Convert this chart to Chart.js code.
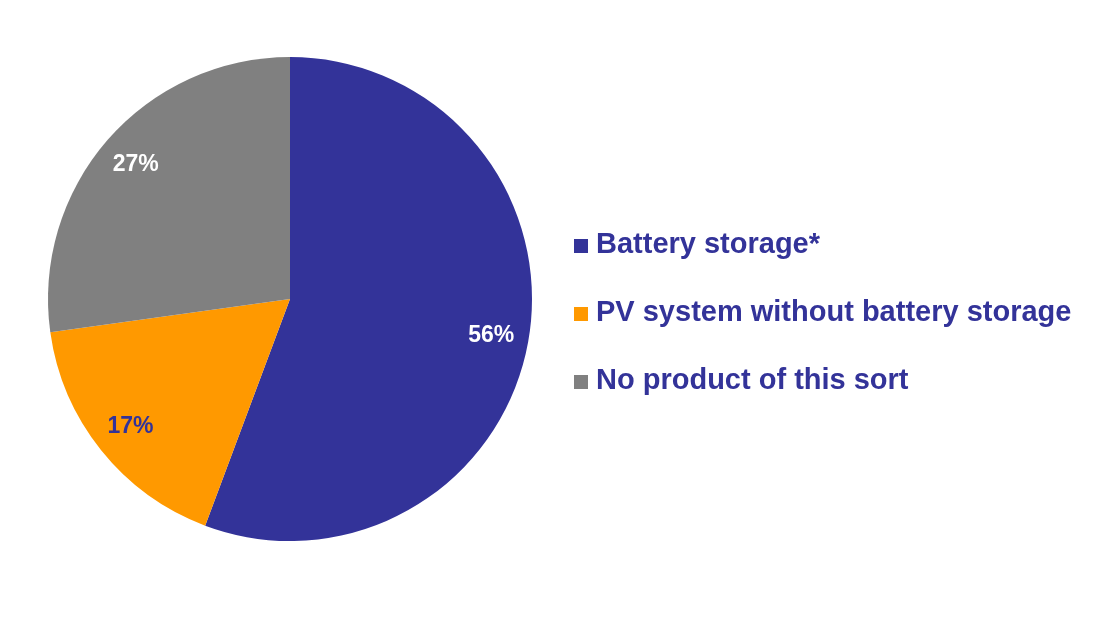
<!DOCTYPE html>
<html>
<head>
<meta charset="utf-8">
<script src="https://cdn.jsdelivr.net/npm/chart.js@4"></script>
<style>
  html, body { margin: 0; padding: 0; background: #fff; }
  #wrap { width: 1102px; height: 623px; }
</style>
</head>
<body>
<div id="wrap"><canvas id="myChart" width="1102" height="623"></canvas></div>
<script>
const categories = ["Battery storage*", "PV system without battery storage", "No product of this sort"];
const shares = [55.7, 17.1, 27.2];
const sliceColors = ["#333399", "#FF9900", "#808080"];
const labelColors = ["#FFFFFF", "#333399", "#FFFFFF"];

const FONT = "'Liberation Sans', Arial, sans-serif";

// percent labels inside the slices
const sliceLabels = {
  id: "sliceLabels",
  afterDatasetsDraw(chart) {
    const ctx = chart.ctx;
    const meta = chart.getDatasetMeta(0);
    ctx.save();
    ctx.font = "bold 23px " + FONT;
    ctx.textAlign = "center";
    ctx.textBaseline = "middle";
    meta.data.forEach((arc, i) => {
      const p = arc.getProps(["x", "y", "startAngle", "endAngle", "outerRadius"], true);
      const mid = (p.startAngle + p.endAngle) / 2;
      const r = p.outerRadius * 0.845;
      ctx.fillStyle = labelColors[i];
      ctx.fillText(Math.round(shares[i]) + "%", p.x + Math.cos(mid) * r, p.y + Math.sin(mid) * r);
    });
    ctx.restore();
  },
};

// legend to the right of the pie, like the Excel original
const sideLegend = {
  id: "sideLegend",
  afterDraw(chart) {
    const ctx = chart.ctx;
    const area = chart.chartArea;
    const cy = (area.top + area.bottom) / 2;
    const left = area.right + 42;
    const rowGap = 68;
    const box = 14;
    ctx.save();
    ctx.font = "bold 29px " + FONT;
    ctx.textBaseline = "middle";
    ctx.textAlign = "left";
    categories.forEach((name, i) => {
      const y = cy + (i - 1) * rowGap + 14;
      ctx.fillStyle = sliceColors[i];
      ctx.fillRect(left, y - box / 2 + 1, box, box);
      ctx.fillStyle = "#333399";
      ctx.fillText(name, left + box + 8, y);
    });
    ctx.restore();
  },
};

new Chart(document.getElementById("myChart"), {
  type: "pie",
  data: {
    labels: categories,
    datasets: [{
      data: shares,
      backgroundColor: sliceColors,
      borderWidth: 0,
    }],
  },
  options: {
    responsive: false,
    animation: false,
    layout: { padding: { left: 48, right: 570, top: 57, bottom: 82 } },
    plugins: {
      tooltip: { enabled: false },
      legend: { display: false },
    },
  },
  plugins: [sliceLabels, sideLegend],
});
</script>
</body>
</html>
